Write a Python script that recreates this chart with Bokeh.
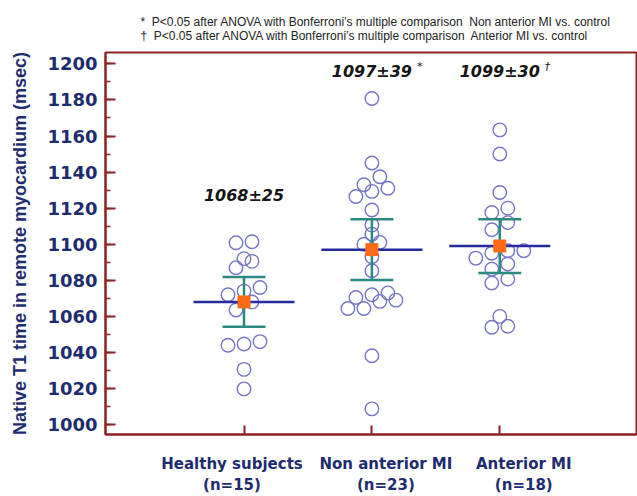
from bokeh.plotting import figure
from bokeh.models import Range1d, FixedTicker, ColumnDataSource, LinearAxis
from bokeh.embed import file_html
from bokeh.resources import INLINE
from bokeh.core.properties import value

# ---------------- data ----------------
groups = ["Healthy subjects", "Non anterior MI", "Anterior MI"]
n_counts = [15, 23, 18]
means = [1068, 1097, 1099]
sds = [25, 39, 30]
ci95 = [13.8, 16.9, 14.9]          # 95% CI half-width shown by the error bars
sig_marks = ["", "*", "\u2020"]

healthy = [1100.8, 1101.4, 1092.0, 1090.5, 1087.0, 1076.0, 1074.0, 1072.0,
           1068.0, 1063.5, 1044.0, 1044.7, 1046.0, 1030.6, 1019.8]
healthy_slot = [-1, 1, 0, 1, -1, 2, 0, -2, 1, -1, -2, 0, 2, 0, 0]

non_anterior = [1180.8, 1145.0, 1137.4, 1133.0, 1131.0, 1129.3, 1126.5, 1119.0,
                1110.6, 1105.6, 1101.0, 1100.0, 1093.0, 1085.3, 1070.5, 1072.0,
                1073.0, 1068.3, 1069.0, 1064.4, 1064.4, 1038.2, 1008.7]
non_anterior_slot = [0, 0, 1, -1, 2, 0, -2, 0, 0, 0, 1, -1, 0, 0, -2, 0,
                     2, 1, 3, -3, -1, 0, 0]

anterior = [1163.4, 1150.0, 1128.7, 1117.6, 1120.0, 1112.0, 1108.0, 1096.4,
            1096.4, 1095.0, 1092.3, 1086.2, 1089.0, 1078.5, 1080.7, 1060.0,
            1054.0, 1054.5]
anterior_slot = [0, 0, 0, -1, 1, 1, -1, 3, 1, -1, -3, -1, 1, -1, 1, 0, -1, 1]

y_ticks = list(range(1000, 1201, 20))
y_minor = list(range(1000, 1201, 10))

SP2 = "\u00a0 "
notes = ["*" + SP2 + "P<0.05 after ANOVA with Bonferroni\u2019s multiple comparison" + SP2 + "Non anterior MI vs. control",
         "\u2020" + SP2 + "P<0.05 after ANOVA with Bonferroni\u2019s multiple comparison" + SP2 + "Anterior MI vs. control"]

# ---------------- layout / style ----------------
X0, X1 = -0.083, 4.069
Y0, Y1 = 994.5, 1206.3
FL, FR, FT, FB = 105, 636, 52, 434          # frame edges on the canvas
PX_X = (FR - FL) / (X1 - X0)
PX_Y = (FB - FT) / (Y1 - Y0)


def dy(py):
    return Y0 + (FB - py) / PX_Y


SLOT = 8 / PX_X
NAVY_TXT = "#1d2c6e"
FRAME = "#8a2222"
CIRCLE = "#7676c6"
MEANLINE = "#262a9c"
TEAL = "#2a8a80"
ORANGE = "#ff6a17"

p = figure(width=637, height=496, output_backend="svg", toolbar_location=None,
           x_range=Range1d(X0, X1), y_range=Range1d(Y0, Y1),
           min_border_left=FL, min_border_top=FT, min_border_right=1,
           min_border_bottom=496 - FB)
p.background_fill_color = "white"
p.border_fill_color = "white"
p.outline_line_color = FRAME
p.outline_line_width = 2
p.xgrid.visible = False
p.ygrid.visible = False

# footnotes as the (left-aligned, two-line) title
p.title.text = notes[0] + "\n" + notes[1]
p.title.align = "left"
p.title.offset = 35
p.title.standoff = 20
p.title.text_font = "Liberation Sans"
p.title.text_font_style = "normal"
p.title.text_font_size = "12px"
p.title.text_line_height = 1.0
p.title.text_color = "#222222"

# y axis
ya = p.yaxis[0]
ya.ticker = FixedTicker(ticks=y_ticks, minor_ticks=y_minor)
ya.axis_line_color = FRAME
ya.axis_line_width = 2
ya.major_tick_line_color = FRAME
ya.minor_tick_line_color = FRAME
ya.major_tick_line_width = 2
ya.minor_tick_line_width = 1.5
ya.major_tick_in = 10
ya.major_tick_out = 0
ya.minor_tick_in = 5
ya.minor_tick_out = 0
ya.major_label_standoff = 8
ya.major_label_text_font = "DejaVu Sans"
ya.major_label_text_font_style = "bold"
ya.major_label_text_font_size = "18px"
ya.major_label_text_color = NAVY_TXT
ya.axis_label = "Native T1 time in remote myocardium (msec)"
ya.axis_label_text_font = "Liberation Sans"
ya.axis_label_text_font_style = "bold"
ya.axis_label_text_font_size = "18px"
ya.axis_label_text_color = NAVY_TXT
ya.axis_label_standoff = 14

# x axis: tick marks at the groups
gx = [1, 2, 3]
xa = p.xaxis[0]
xa.ticker = FixedTicker(ticks=gx, minor_ticks=[])
xa.major_label_overrides = {1: "", 2: "", 3: ""}
xa.major_label_text_font_size = "0px"
xa.major_label_standoff = 0
xa.axis_label_standoff = 0
xa.axis_line_color = FRAME
xa.axis_line_width = 2
xa.major_tick_line_color = FRAME
xa.major_tick_line_width = 2
xa.major_tick_in = 9
xa.major_tick_out = 0
xa.minor_tick_line_color = None

# second bottom axis carrying the group names
cat_shift_px = [-12, 14, 24]
cat_ticks = [g + s / PX_X for g, s in zip(gx, cat_shift_px)]
xa2 = LinearAxis(ticker=FixedTicker(ticks=cat_ticks, minor_ticks=[]),
                 major_label_overrides={t: f"{g}\n(n={n})"
                                        for t, g, n in zip(cat_ticks, groups, n_counts)},
                 axis_line_color=None, major_tick_line_color=None,
                 minor_tick_line_color=None, major_tick_in=0, major_tick_out=0,
                 major_label_standoff=20, axis_label_standoff=0,
                 major_label_text_font="DejaVu Sans",
                 major_label_text_font_style="bold",
                 major_label_text_font_size="15px",
                 major_label_text_line_height=1.19,
                 major_label_text_color=NAVY_TXT)
p.add_layout(xa2, "below")

# points
px_, py_ = [], []
for gi, (vals, slots) in enumerate([(healthy, healthy_slot),
                                    (non_anterior, non_anterior_slot),
                                    (anterior, anterior_slot)]):
    for v, s in zip(vals, slots):
        px_.append(gx[gi] + s * SLOT)
        py_.append(v)
pts = ColumnDataSource(dict(x=px_, y=py_))
p.scatter("x", "y", source=pts, marker="circle", size=13.5, fill_color=None,
          line_color=CIRCLE, line_width=1.4)

# summary
half_mean = 0.395
half_cap = 0.168
lo = [m - c for m, c in zip(means, ci95)]
hi = [m + c for m, c in zip(means, ci95)]
summ = ColumnDataSource(dict(
    x=gx, mean=means, lo=lo, hi=hi,
    mx0=[x - half_mean for x in gx], mx1=[x + half_mean for x in gx],
    cx0=[x - half_cap for x in gx], cx1=[x + half_cap for x in gx]))
p.segment("x", "lo", "x", "hi", source=summ, line_color=TEAL, line_width=2.5)
p.segment("cx0", "lo", "cx1", "lo", source=summ, line_color=TEAL, line_width=2.5)
p.segment("cx0", "hi", "cx1", "hi", source=summ, line_color=TEAL, line_width=2.5)
p.segment("mx0", "mean", "mx1", "mean", source=summ, line_color=MEANLINE, line_width=2.5)
p.scatter("x", "mean", source=summ, marker="square", size=12,
          fill_color=ORANGE, line_color=ORANGE)

# mean +- SD labels
label_py = [194.5, 71, 71]
stat_src = ColumnDataSource(dict(
    x=gx, y=[dy(v) for v in label_py],
    t=[f"{m}\u00b1{s}" for m, s in zip(means, sds)]))
p.text("x", "y", text="t", source=stat_src, text_align="center",
       text_baseline="middle", text_font=value("DejaVu Sans"),
       text_font_style="bold italic", text_font_size="16px", text_color="#151515")
sig_src = ColumnDataSource(dict(
    x=gx, y=[dy(v - 5) for v in label_py], t=sig_marks))
p.text("x", "y", text="t", source=sig_src, x_offset=45, text_align="left",
       text_baseline="middle", text_font=value("DejaVu Sans"),
       text_font_style="italic", text_font_size="11px", text_color="#151515")

open("out.html", "w").write(file_html(p, INLINE))
